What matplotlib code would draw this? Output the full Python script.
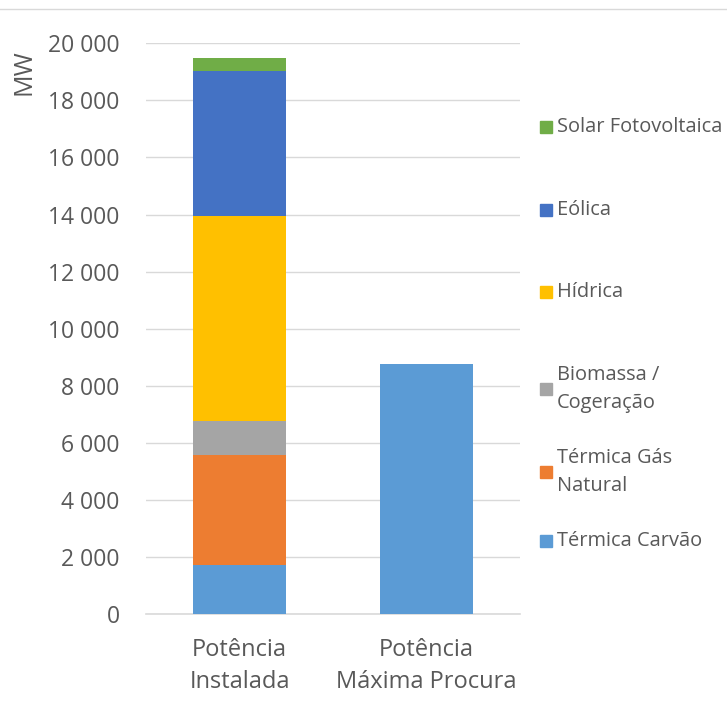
import matplotlib.pyplot as plt
from matplotlib.lines import Line2D
from matplotlib.ticker import FuncFormatter

plt.rcParams['font.family'] = ['Open Sans', 'DejaVu Sans']

categories = ["Potência\nInstalada", "Potência\nMáxima Procura"]
series_names = ["Térmica Carvão", "Térmica Gás\nNatural", "Biomassa /\nCogeração",
                "Hídrica", "Eólica", "Solar Fotovoltaica"]
installed = [1730, 3840, 1180, 7200, 5090, 460]
peak_demand = [8770, 0, 0, 0, 0, 0]
colors = ["#5b9bd5", "#ed7d31", "#a5a5a5", "#ffc000", "#4472c4", "#70ad47"]
y_ticks = [0, 2000, 4000, 6000, 8000, 10000, 12000, 14000, 16000, 18000, 20000]

text_color = "#595959"
grid_color = "#d9d9d9"

fig = plt.figure(figsize=(7.27, 7.25), dpi=100)
ax = fig.add_axes([146 / 727, 1 - 614 / 725, 374 / 727, (614 - 43.3) / 725])

x = [0, 1]
bottom = [0, 0]
for name, v1, v2, c in zip(series_names, installed, peak_demand, colors):
    vals = [v1, v2]
    ax.bar(x, vals, width=0.5, bottom=bottom, color=c, label=name, zorder=3)
    bottom = [b + v for b, v in zip(bottom, vals)]

ax.set_xlim(-0.5, 1.5)
ax.set_ylim(0, 20000)
ax.set_yticks(y_ticks)
ax.yaxis.set_major_formatter(FuncFormatter(lambda v, p: f"{int(v):,}".replace(",", " ")))
ax.set_xticks(x)
ax.set_xticklabels(categories, fontsize=17, color=text_color, linespacing=1.45)
ax.tick_params(axis='y', length=0, labelsize=16.5, labelcolor=text_color, pad=19)
ax.tick_params(axis='x', length=0, pad=17)
ax.grid(axis='y', color=grid_color, linewidth=1, zorder=0)
for s in ["top", "right", "left"]:
    ax.spines[s].set_visible(False)
ax.spines["bottom"].set_color(grid_color)
ax.spines["bottom"].set_linewidth(1.2)

fig.text(24 / 727, 1 - 72 / 725, "MW", fontsize=18, color=text_color,
         rotation=90, ha='center', va='center')

# legend entries on the right, top to bottom in reverse stacking order
legend_y = [127, 210, 292, 389, 472, 541]
for name, c, yp in zip(series_names[::-1], colors[::-1], legend_y):
    fig.patches.append(plt.Rectangle((540 / 727, 1 - (yp + 6) / 725), 12 / 727, 12 / 725,
                                     transform=fig.transFigure, color=c))
    fig.text(557 / 727, 1 - yp / 725, name, fontsize=14.4, color=text_color,
             va='center', ha='left', linespacing=1.53)

# thin separator line at the top of the figure
fig.add_artist(Line2D([0, 1], [1 - 9 / 725, 1 - 9 / 725], transform=fig.transFigure,
                      color=grid_color, linewidth=1))

fig.savefig("out.png", dpi=100, facecolor="white")
